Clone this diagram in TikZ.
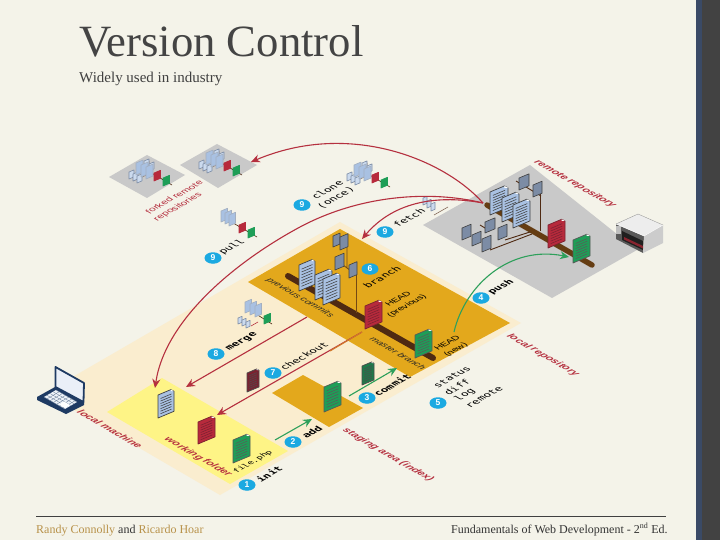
\documentclass[tikz,border=0pt]{standalone}
\usepackage{fontspec}
\setmainfont{Liberation Serif}
\newfontfamily\sansf{Liberation Sans}
\newfontfamily\monof{DejaVu Sans Mono}
\usetikzlibrary{arrows.meta,shapes.geometric}
\definecolor{bgc}{HTML}{F4F3E9}
\definecolor{creamc}{HTML}{FAEDCF}
\definecolor{yellowc}{HTML}{FEF486}
\definecolor{orangec}{HTML}{E3A81C}
\definecolor{greyc}{HTML}{C9C9C9}
\definecolor{redc}{HTML}{B5303F}
\definecolor{greenc}{HTML}{2EA05B}
\definecolor{cyanc}{HTML}{1BA9E1}
\definecolor{brownc}{HTML}{4F2A12}
\definecolor{docblue}{HTML}{A9C1E2}
\definecolor{docgrey}{HTML}{7C8CA5}
\definecolor{docred}{HTML}{B72A3C}
\definecolor{docgreen}{HTML}{1E9E57}
\definecolor{docdred}{HTML}{7A2230}
\definecolor{docdgreen}{HTML}{1F7A4A}
\definecolor{navyc}{HTML}{1E3A63}
\definecolor{stripc}{HTML}{3A4A66}
\definecolor{titlec}{HTML}{444444}
\definecolor{tanc}{HTML}{B8924A}
\newcommand{\bigdoc}[6]{%
  \draw[draw=#6,line width=.7pt,fill=#5,line join=round] (#1,#2) -- ++(0,-#4) -- ++(#3*.8,-#3*.336) -- ++(#3*.2,#3*.1) -- ++(0,#4-#3*.184) -- cycle;
  \fill[white] ({#1+.8*#3},{#2-#4-.336*#3}) -- ++(#3*.2,#3*.1) -- ++(-#3*.2,0) -- cycle;
  \foreach \t in {.14,.25,.36,.47,.58,.69,.80}
    \draw[draw=#6,line width=.55pt] ({#1+.16*#3},{#2-\t*#4-.067*#3}) -- ({#1+.84*#3},{#2-\t*#4-.353*#3});}
\newcommand{\smalldoc}[6]{%
  \draw[draw=#6,line width=.6pt,fill=#5,line join=round] (#1,#2) -- ++(0,-#4) -- ++(#3,-#3*.42) -- ++(0,#4) -- cycle;}
\newcommand{\minirepo}[2]{%
  \begin{scope}[shift={(#1,#2)}]
    \draw[brownc,line width=.6pt] (-14,-8) -- (15,9);
    \draw[brownc!70,line width=.5pt] (-8,-15) -- (-8,-2) -- (-24,5);
    \foreach \a/\b in {-28/3,-24/5,-20/7,-13/-8,-8/-5}
      \smalldoc{\a}{\b}{5}{7}{docblue!60}{docgrey};
    \foreach \a/\b in {-21/-1,-16/1,-11/3}
      \smalldoc{\a}{\b}{7}{12}{docblue}{docgrey!70};
    \smalldoc{-3}{5}{6.5}{8}{docred}{docred};
    \smalldoc{6}{10}{6.5}{8}{docgreen}{docgreen};
  \end{scope}}
\tikzset{
  isoup/.style={cm={.866,.5,-.76,.44,(0,0)},inner sep=0pt,outer sep=0pt},
  isodn/.style={cm={.866,-.5,.76,.44,(0,0)},inner sep=0pt,outer sep=0pt},
  cmd/.style={isoup,font=\monof\fontsize{10.8}{11}\selectfont,text=black},
  cmdb/.style={isoup,font=\monof\bfseries\fontsize{10.8}{11}\selectfont,text=black},
  filelabel/.style={isoup,font=\monof\fontsize{8.7}{10}\selectfont,text=black},
  arealabel/.style={isodn,font=\sansf\bfseries\itshape\fontsize{10.7}{11}\selectfont,text=redc},
  barlabel/.style={isodn,font=\sansf\itshape\fontsize{9.5}{11}\selectfont,text=black!85},
  headlabel/.style={isoup,font=\sansf\fontsize{9.4}{11}\selectfont,text=black},
  forklabel/.style={isoup,font=\sansf\fontsize{10.1}{11}\selectfont,text=redc},
  badge/.style={ellipse,fill=cyanc,text=white,inner sep=0pt,minimum width=17pt,minimum height=11.5pt,font=\sansf\bfseries\fontsize{8.5}{9}\selectfont},
  redarrow/.style={draw=redc,line width=1.1pt,-{Stealth[length=9pt,width=8pt]}},
  greenarrow/.style={draw=greenc,line width=1.1pt,-{Stealth[length=9pt,width=8pt]}},
  ornode/.style={inner sep=0pt,font=\fontsize{12}{14}\selectfont,text=black!80,anchor=base west}
}
\begin{document}
\begin{tikzpicture}[x=1pt,y=-1pt]
\useasboundingbox (0,0) rectangle (720,540);
\fill[bgc] (0,0) rectangle (720,540);
\fill[stripc] (696,0) rectangle (702,540);
\fill[fill=black!74] (702,0) rectangle (720,540);
% areas
\fill[creamc] (45,393) -- (340,222) -- (521,323) -- (220,495) -- cycle;
\fill[yellowc] (107,412) -- (162,378) -- (288,451) -- (230,484) -- cycle;
\fill[orangec] (272,393) -- (303,375) -- (363,408) -- (329,427) -- cycle;
\fill[orangec] (248,282) -- (340,229) -- (510,323) -- (410,377) -- cycle;
\fill[greyc] (423,225) -- (530,165) -- (637,250) -- (552,298) -- cycle;
\fill[greyc] (109,177) -- (147,155) -- (185,175) -- (147,198) -- cycle;
\fill[greyc] (180,165) -- (217,144) -- (257,165) -- (218,188) -- cycle;
% mini repositories
\minirepo{157}{176}
\minirepo{227}{166}
\minirepo{375}{178}
\begin{scope}[shift={(242,228)}]
  \draw[brownc,line width=.6pt] (-14,-8) -- (15,9);
  \foreach \a/\b in {-21/-6,-17/-4,-13/-2}
    \smalldoc{\a}{\b}{6.5}{11}{docblue}{docgrey!70};
  \smalldoc{-3}{5}{6.5}{8}{docred}{docred};
  \smalldoc{6}{10}{6.5}{8}{docgreen}{docgreen};
\end{scope}
\begin{scope}[shift={(252,310)}]
  \draw[brownc,line width=.6pt] (4,4) -- (20,14);
  \draw[redc,line width=.6pt] (-1,16) -- (6,12);
  \foreach \a/\b in {-7/3,-2/5,3/7}
    \smalldoc{\a}{\b}{6.5}{11}{docblue}{docgrey!70};
  \foreach \a/\b in {-14/14,-10/16,-6/18}
    \smalldoc{\a}{\b}{4}{6}{docblue!60}{docgrey};
  \smalldoc{12}{14}{6.5}{8}{docgreen}{docgreen};
\end{scope}
\begin{scope}[shift={(428,208)}]
  \draw[brownc!70,line width=.6pt] (6,7) -- (20,-1);
  \foreach \a/\b in {-5/-3,-1/0,3/3}
    \smalldoc{\a}{\b}{4}{7}{docblue!60}{docgrey};
\end{scope}
% local repository content
\draw[brownc,line width=6pt,line cap=round] (288,276) -- (433,358);
\draw[brownc!75!orangec,line width=.8pt] (356,270) -- (356,313);
\draw[brownc!75!orangec,line width=.8pt] (347,238) -- (347,268) -- (335,259);
\draw[brownc!75!orangec,line width=.8pt] (347,268) -- (357,275);
\draw[brownc!75!orangec,line width=.8pt] (334,240) -- (344,246);
\bigdoc{299}{291}{16}{26}{docblue}{black!75}
\bigdoc{315}{300}{17}{25}{docblue}{black!75}
\bigdoc{323}{305}{17}{26}{docblue}{black!75}
\bigdoc{365}{329}{17}{23}{docred}{docdred}
\bigdoc{415}{358}{17}{23}{docgreen}{black!65}
\smalldoc{333}{247}{7}{11}{docgrey}{black!75}
\smalldoc{340}{250}{8}{13}{docgrey}{black!75}
\smalldoc{335}{270}{9}{13}{docgrey}{black!75}
\smalldoc{349}{278}{8}{13}{docgrey}{black!75}
% remote repository content
\draw[brownc!85!orangec,line width=5.5pt,line cap=round] (487,205) -- (592,265);
\draw[brownc,line width=.9pt] (516,181) -- (541,196);
\draw[brownc,line width=.9pt] (540,192) -- (540,231);
\draw[brownc,line width=.9pt] (490,250) -- (532,234);
\draw[brownc,line width=.9pt] (505,240) -- (530,232);
\draw[brownc,line width=.9pt] (480,225) -- (490,231);
\bigdoc{490}{215}{18}{23}{docblue}{black!75}
\bigdoc{502}{222}{17}{24}{docblue}{black!75}
\bigdoc{513}{228}{17}{23}{docblue}{black!75}
\bigdoc{548}{248}{17}{23}{docred}{docdred}
\bigdoc{573}{263}{17}{23}{docgreen}{black!65}
\smalldoc{519}{190}{10}{12}{docgrey}{black!75}
\smalldoc{533}{197}{9}{12}{docgrey}{black!75}
\smalldoc{485}{233}{10}{11}{docgrey}{black!75}
\smalldoc{498}{240}{9}{12}{docgrey}{black!75}
\smalldoc{462}{240}{9}{12}{docgrey}{black!75}
\smalldoc{472}{246}{9}{11}{docgrey}{black!75}
\smalldoc{482}{252}{9}{13}{docgrey}{black!75}
% server
\fill[black!65] (616,224) -- (644,236) -- (643,253) -- (616,239) -- cycle;
\fill[black!88] (622,231) -- (643,241) -- (643,250) -- (622,240) -- cycle;
\fill[redc!75!black] (624,237) -- (643,246) -- (643,248.5) -- (624,239.5) -- cycle;
\fill[black!25] (616,226) rectangle (621,234);
\fill[black!7] (616,224) -- (638,214) -- (663,225) -- (644,236) -- cycle;
\fill[black!20] (644,236) -- (663,225) -- (663,243) -- (643,253) -- cycle;
\draw[black!45,line width=.3pt] (616,224) -- (638,214) -- (663,225);
\draw[white,line width=.4pt] (616,224) -- (644,236) -- (663,225);
% laptop
\fill[navyc,line join=round] (37,397) -- (55,387) -- (84,402) -- (84,405) -- (66,414) -- (37,400) -- cycle;
\fill[docblue!20] (44,397) -- (56,390) -- (77,402) -- (65,409) -- cycle;
\foreach \t in {0,.25,.5,.75,1}
  \draw[navyc!70,line width=.3pt] ({44+12*\t},{397-7*\t}) -- ({65+12*\t},{409-7*\t});
\foreach \t in {.15,.3,.45,.6,.75,.9}
  \draw[navyc!70,line width=.3pt] ({44+21*\t},{397+12*\t}) -- ({56+21*\t},{390+12*\t});
\fill[white] (59,404.5) -- (64,401.5) -- (70,405) -- (65,408) -- cycle;
\draw[navyc,line width=1.8pt,fill=docblue!25,line join=round] (55.5,367) -- (84,383) -- (83.5,402) -- (55.5,387) -- cycle;
% working and staging files
\bigdoc{158}{418}{16}{23}{docblue}{black!75}
\bigdoc{198}{444}{17}{22}{docred}{docdred}
\bigdoc{233}{463}{17}{23}{docgreen}{black!65}
\bigdoc{247}{392}{12}{19}{docdred}{black!70}
\bigdoc{324}{412}{17}{25}{docgreen}{black!65}
\bigdoc{362}{385}{12}{19}{docdgreen}{black!70}
% connector ends
\coordinate (remoteout) at (483,203);
\coordinate (forktip) at (251,162);
\coordinate (pullmid) at (300,227);
\coordinate (pulltip) at (155,388);
\coordinate (fetchtip) at (362,239);
\coordinate (mergefrom) at (307,317);
\coordinate (mergetip) at (186,387);
\coordinate (checkfrom) at (362,332);
\coordinate (checkedge) at (330,351);
\coordinate (checktip) at (217,415);
\coordinate (addfrom) at (275,440);
\coordinate (addtip) at (312,419);
\coordinate (commitfrom) at (349,396);
\coordinate (committip) at (397,368);
\coordinate (pushfrom) at (454,332);
\coordinate (pushtip) at (569,257);
% connectors
\draw[redarrow] (remoteout) .. controls (445,160) and (350,120) .. (forktip);
\draw[redarrow] (remoteout) .. controls (430,190) and (360,195) .. (pullmid) .. controls (235,262) and (165,320) .. (pulltip);
\draw[redarrow] (remoteout) .. controls (440,195) and (395,200) .. (fetchtip);
\draw[redarrow] (mergefrom) -- (mergetip);
\draw[redarrow] (checkfrom) -- (checktip);
\draw[draw=orangec!60!redc,line width=1.1pt] (checkfrom) -- (checkedge);
\draw[greenarrow] (addfrom) -- (addtip);
\draw[greenarrow] (commitfrom) -- (committip);
\draw[greenarrow] (pushfrom) .. controls (465,285) and (510,245) .. (pushtip);
% badges
\node[badge] (b9a) at (302,205) {9};
\node[badge] (b9b) at (213,258) {9};
\node[badge] (b9c) at (385,232) {9};
\node[badge] (b6) at (370,269) {6};
\node[badge] (b4) at (481,298) {4};
\node[badge] (b8) at (216,354) {8};
\node[badge] (b7) at (273,373) {7};
\node[badge] (b3) at (367,398) {3};
\node[badge] (b2) at (293,442) {2};
\node[badge] (b1) at (247,485) {1};
\node[badge] (b5) at (438,403) {5};
% commands
\node[cmd] (tclone) at (327,190) {clone};
\node[cmd] (tonce) at (336,198) {(once)};
\node[cmd] (tpull) at (232,247) {pull};
\node[cmd] (tfetch) at (409,218) {fetch};
\node[cmd] (tbranch) at (382,277) {branch};
\node[cmdb] (tpush) at (501,287) {push};
\node[cmdb] (tmerge) at (242,342) {merge};
\node[cmd] (tcheckout) at (304,356) {checkout};
\node[cmdb] (tcommit) at (392,385) {commit};
\node[cmdb] (tadd) at (312,432) {add};
\node[cmdb] (tinit) at (269,474) {init};
\node[filelabel] (tfile) at (253,462) {file.php};
\node[cmd] (tstatus) at (452,377) {status};
\node[cmd] (tdiff) at (457,387) {diff};
\node[cmd] (tlog) at (465,395) {log};
\node[cmd] (tremote) at (484,397) {remote};
\node[headlabel] (thp) at (398,299) {HEAD};
\node[headlabel] (thpp) at (407,306) {(previous)};
\node[headlabel] (thn) at (447,343) {HEAD};
\node[headlabel] (thnn) at (456,350) {(new)};
% area labels
\node[arealabel] (lm) at (110,429) {local machine};
\node[arealabel] (wf) at (198,457) {working folder};
\node[arealabel] (sa) at (388,455) {staging area (index)};
\node[arealabel] (lr) at (543,355) {local repository};
\node[arealabel] (rr) at (575,184) {remote repository};
\node[barlabel] (pc) at (300,298) {previous commits};
\node[barlabel] (mb) at (398,353) {master branch};
\node[forklabel] (ff) at (174,197) {forked remote};
\node[forklabel] (fr) at (178,207) {repositories};
% title and footer
\node[inner sep=0pt,anchor=base west,font=\fontsize{44.7}{48}\selectfont,text=titlec] (title) at (79,57) {Version Control};
\node[inner sep=0pt,anchor=base west,font=\fontsize{15}{17}\selectfont,text=black!75] (subtitle) at (79,83) {Widely used in industry};
\coordinate (rulel) at (36,516.5);
\coordinate (ruler) at (666,516.5);
\draw[black!75,line width=.8pt] (rulel) -- (ruler);
\node[ornode] (foot1) at (36,533) {\textcolor{tanc}{Randy Connolly} and \textcolor{tanc}{Ricardo Hoar}};
\node[ornode] (foot2) at (451,533) {Fundamentals of Web Development - 2\textsuperscript{nd} Ed.};
\end{tikzpicture}
\end{document}
